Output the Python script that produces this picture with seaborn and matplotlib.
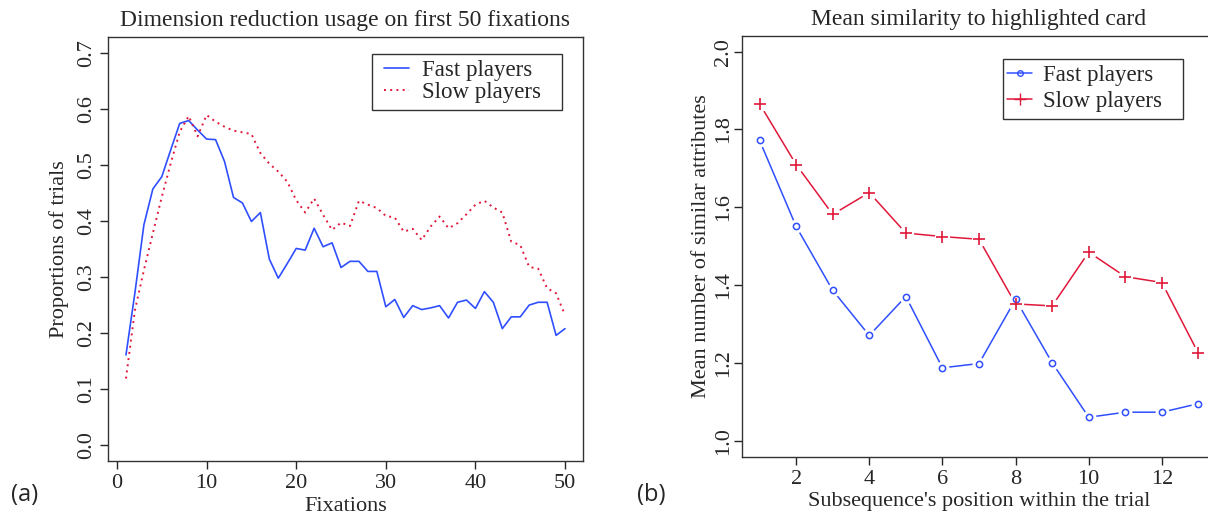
import numpy as np
import pandas as pd
import matplotlib
matplotlib.use("Agg")
import matplotlib.pyplot as plt
from matplotlib.patches import Rectangle
import seaborn as sns

# ---------------- data ----------------
fix_x = list(range(1, 51))
fast_fix = [0.161, 0.272, 0.393, 0.457, 0.479, 0.527, 0.574, 0.579, 0.562, 0.546,
            0.545, 0.506, 0.442, 0.432, 0.399, 0.415, 0.332, 0.298, 0.324, 0.351,
            0.348, 0.387, 0.354, 0.361, 0.317, 0.328, 0.328, 0.310, 0.310, 0.247,
            0.260, 0.228, 0.249, 0.242, 0.245, 0.249, 0.227, 0.255, 0.259, 0.244,
            0.274, 0.255, 0.208, 0.229, 0.229, 0.250, 0.255, 0.255, 0.196, 0.208]
slow_fix = [0.119, 0.241, 0.312, 0.378, 0.443, 0.503, 0.559, 0.587, 0.551, 0.589,
            0.577, 0.568, 0.561, 0.558, 0.555, 0.521, 0.502, 0.488, 0.470, 0.437,
            0.415, 0.440, 0.411, 0.384, 0.397, 0.391, 0.436, 0.429, 0.423, 0.409,
            0.406, 0.381, 0.386, 0.366, 0.390, 0.408, 0.387, 0.396, 0.412, 0.429,
            0.436, 0.424, 0.415, 0.363, 0.357, 0.318, 0.315, 0.280, 0.271, 0.232]

pos_x = list(range(1, 14))
fast_sim = [1.772, 1.551, 1.387, 1.271, 1.371, 1.188, 1.199, 1.364, 1.201, 1.061, 1.074, 1.074, 1.096]
slow_sim = [1.866, 1.710, 1.582, 1.638, 1.534, 1.525, 1.518, 1.352, 1.347, 1.485, 1.422, 1.407, 1.225]

left_xticks = [0, 10, 20, 30, 40, 50]
left_yticks = [0.0, 0.1, 0.2, 0.3, 0.4, 0.5, 0.6, 0.7]
right_xticks = [2, 4, 6, 8, 10, 12]
right_yticks = [1.0, 1.2, 1.4, 1.6, 1.8, 2.0]

series_names = ["Fast players", "Slow players"]
BLUE = "#2f4fff"
RED = "#e0183a"

# ---------------- style ----------------
sns.set_style("ticks")
plt.rcParams["font.family"] = ["Liberation Serif", "DejaVu Serif"]
plt.rcParams["axes.linewidth"] = 1.0
plt.rcParams["xtick.major.size"] = 6
plt.rcParams["ytick.major.size"] = 6
plt.rcParams["xtick.major.width"] = 1.0
plt.rcParams["ytick.major.width"] = 1.0
plt.rcParams["axes.edgecolor"] = "#333333"

FS = 16
LFS = 16.5
fig = plt.figure(figsize=(12.08, 5.14), dpi=100)

# ---------------- left panel ----------------
axL = fig.add_axes([108.4 / 1208, 53 / 514, 474.2 / 1208, 424 / 514])
dfL = pd.DataFrame({"x": fix_x * 2,
                    "y": fast_fix + slow_fix,
                    "s": [series_names[0]] * 50 + [series_names[1]] * 50})
sns.lineplot(data=dfL[dfL.s == series_names[0]], x="x", y="y", ax=axL,
             color=BLUE, lw=1.2, label=series_names[0])
sns.lineplot(data=dfL[dfL.s == series_names[1]], x="x", y="y", ax=axL,
             color=RED, lw=1.4, linestyle=(0, (1, 2.2)), label=series_names[1])
axL.set_xlim(1 - 49 * 0.04, 50 + 49 * 0.04)
axL.set_ylim(-0.028, 0.728)
axL.set_xticks(left_xticks)
axL.set_xticklabels([str(t) for t in left_xticks], fontsize=FS)
axL.set_yticks(left_yticks)
axL.set_yticklabels([f"{t:.1f}" for t in left_yticks], fontsize=FS, rotation=90, va="center")
axL.tick_params(axis="y", pad=2.5)
axL.set_xlabel("Fixations", fontsize=FS, labelpad=3)
axL.set_ylabel("Proportions of trials", fontsize=FS, labelpad=6)
axL.set_title("Dimension reduction usage on first 50 fixations", fontsize=17, pad=8)
legL = axL.legend(loc="center left", bbox_to_anchor=(0.5812, 0.895), borderaxespad=0,
                  borderpad=0, fontsize=LFS, frameon=False, handlelength=1.09,
                  handletextpad=0.57, labelspacing=0.05)
axL.add_patch(Rectangle((0.5559, 0.8278), 0.9566 - 0.5559, 0.9599 - 0.8278,
                        transform=axL.transAxes, fill=False, ec="#333333", lw=1.0,
                        zorder=5))

# ---------------- right panel ----------------
axR = fig.add_axes([742 / 1208, 57.4 / 514, 474 / 1208, 420.6 / 514])
dfR = pd.DataFrame({"x": pos_x * 2,
                    "y": fast_sim + slow_sim,
                    "s": [series_names[0]] * 13 + [series_names[1]] * 13})
fR = dfR[dfR.s == series_names[0]]
sR = dfR[dfR.s == series_names[1]]
sns.lineplot(data=fR, x="x", y="y", ax=axR, color=BLUE, lw=1.1, zorder=2)
sns.lineplot(data=sR, x="x", y="y", ax=axR, color=RED, lw=1.1, zorder=2)
# white gaps around points (type="b" style)
axR.plot(fR.x, fR.y, ls="none", marker="o", ms=10, mfc="white", mec="none", zorder=3)
axR.plot(sR.x, sR.y, ls="none", marker="o", ms=11, mfc="white", mec="none", zorder=3)
# markers
axR.plot(fR.x, fR.y, ls="none", marker="o", ms=4.5, mfc="none", mec=BLUE, mew=1.1, zorder=4)
axR.plot(sR.x, sR.y, ls="none", marker="+", ms=8, mec=RED, mew=1.2, zorder=4)
hF, = axR.plot([], [], color=BLUE, lw=1.1, marker="o", ms=4, mfc="none", mec=BLUE)
hS, = axR.plot([], [], color=RED, lw=1.1, marker="+", ms=8, mec=RED)
axR.set_xlim(1 - 12 * 0.04, 13 + 12 * 0.04)
axR.set_ylim(0.96, 2.04)
axR.set_xticks(right_xticks)
axR.set_xticklabels([str(t) for t in right_xticks], fontsize=FS)
axR.set_yticks(right_yticks)
axR.set_yticklabels([f"{t:.1f}" for t in right_yticks], fontsize=FS, rotation=90, va="center")
axR.tick_params(axis="y", pad=0.5)
axR.set_xlabel("Subsequence's position within the trial", fontsize=FS, labelpad=2)
axR.set_ylabel("Mean number of similar attributes", fontsize=FS, labelpad=2)
axR.set_title("Mean similarity to highlighted card", fontsize=17, pad=8)
legR = axR.legend([hF, hS], series_names, loc="center left", bbox_to_anchor=(0.5591, 0.8757),
                  borderaxespad=0, borderpad=0, fontsize=LFS, frameon=False,
                  handlelength=1.09, handletextpad=0.48, labelspacing=0.2)
axR.add_patch(Rectangle((0.5506, 0.8027), 0.9304 - 0.5506, 0.9453 - 0.8027,
                        transform=axR.transAxes, fill=False, ec="#333333", lw=1.0,
                        zorder=5))

# panel letters
fig.text(25 / 1208, 1 - 495 / 514, "(a)", fontsize=17, family=["Open Sans", "DejaVu Sans"],
         ha="center", va="center")
fig.text(651 / 1208, 1 - 495 / 514, "(b)", fontsize=17, family=["Open Sans", "DejaVu Sans"],
         ha="center", va="center")

fig.savefig("out.png", dpi=100)
